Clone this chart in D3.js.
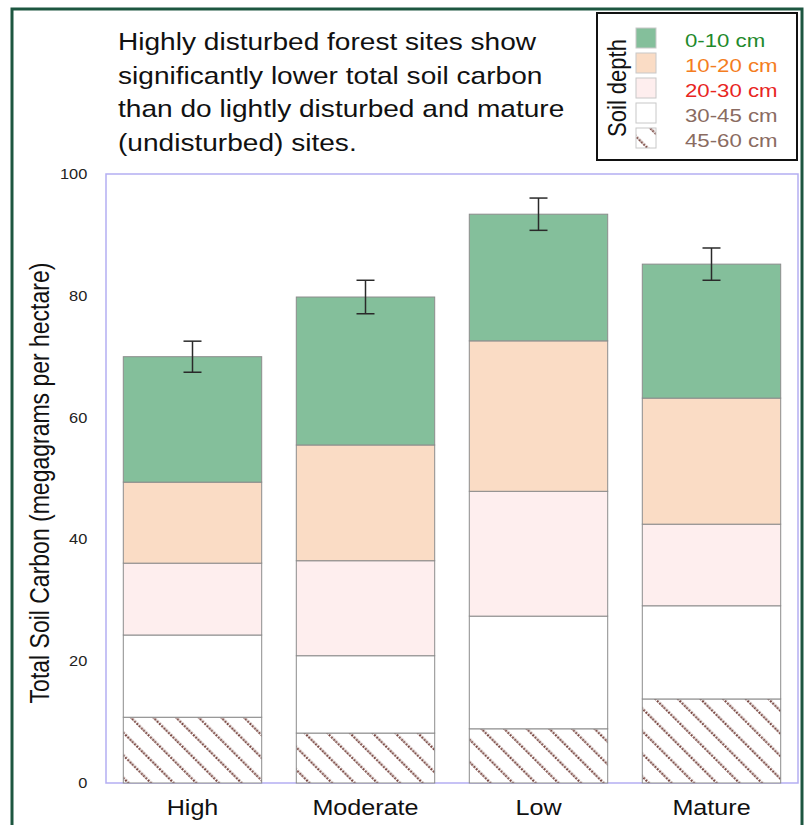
<!DOCTYPE html>
<html><head><meta charset="utf-8">
<script src="https://cdn.jsdelivr.net/npm/d3@7/dist/d3.min.js"></script>
<style>body{margin:0;background:#fff}svg{display:block;font-family:"Liberation Sans",Arial,sans-serif}</style>
</head><body>
<svg id="c" width="806" height="825"></svg>
<script>
const sites = ["High", "Moderate", "Low", "Mature"];
const depths = ["45-60 cm", "30-45 cm", "20-30 cm", "10-20 cm", "0-10 cm"];
const d45_60 = [10.8, 8.2, 8.9, 13.8];
const d30_45 = [13.5, 12.7, 18.5, 15.3];
const d20_30 = [11.8, 15.6, 20.5, 13.4];
const d10_20 = [13.3, 19.0, 24.7, 20.7];
const d0_10  = [20.6, 24.3, 20.8, 22.0];
const errHalf = [2.55, 2.75, 2.65, 2.65];
const yTicks = [0, 20, 40, 60, 80, 100];
const titleLines = ["Highly disturbed forest sites show", "significantly lower total soil carbon", "than do lightly disturbed and mature", "(undisturbed) sites."];

const SX = 1.17; // horizontal stretch of the original picture's text
const fills = {"0-10 cm":"#84bf9b","10-20 cm":"#fadcc5","20-30 cm":"#feeeee","30-45 cm":"#ffffff","45-60 cm":"url(#hatch)"};
const textCols = {"0-10 cm":"#1f8a2c","10-20 cm":"#f47d21","20-30 cm":"#e8261f","30-45 cm":"#8a6b61","45-60 cm":"#8a6b61"};

const svg = d3.select("#c");
const defs = svg.append("defs");
const pat = defs.append("pattern").attr("id","hatch").attr("patternUnits","userSpaceOnUse")
  .attr("width",16).attr("height",16).attr("patternTransform","rotate(-45)");
pat.append("rect").attr("width",16).attr("height",16).attr("fill","#fff");
pat.append("line").attr("x1",1).attr("y1",0).attr("x2",1).attr("y2",16)
  .attr("stroke","#7a4842").attr("stroke-width",2.6).attr("stroke-dasharray","2,1.2");

// outer frame
svg.append("rect").attr("x",12).attr("y",9).attr("width",790).attr("height",830)
  .attr("fill","none").attr("stroke","#1d5640").attr("stroke-width",3);

const L=106,R=798,T=174,B=783;
const x = d3.scaleBand().domain(sites).range([L,R]).paddingInner(0.2).paddingOuter(0.1);
const y = d3.scaleLinear().domain([0,100]).range([B,T]);

const rows = sites.map((s,i)=>({site:s,"45-60 cm":d45_60[i],"30-45 cm":d30_45[i],"20-30 cm":d20_30[i],"10-20 cm":d10_20[i],"0-10 cm":d0_10[i]}));
const stack = d3.stack().keys(depths)(rows);

// plot frame
svg.append("rect").attr("x",L).attr("y",T).attr("width",R-L).attr("height",B-T)
  .attr("fill","none").attr("stroke","#b4aef2").attr("stroke-width",1.5);

svg.append("g").selectAll("g").data(stack).join("g")
  .attr("fill",d=>fills[d.key])
  .selectAll("rect").data(d=>d).join("rect")
  .attr("x",d=>x(d.data.site)).attr("width",x.bandwidth())
  .attr("y",d=>y(d[1])).attr("height",d=>y(d[0])-y(d[1]))
  .attr("stroke","#8c8c8c").attr("stroke-width",1);

// error bars
const tops = stack[stack.length-1];
const eg = svg.append("g").attr("stroke","#2a2a2a").attr("stroke-width",1.5);
tops.forEach((d,i)=>{
  const cx = x(d.data.site)+x.bandwidth()/2;
  const hi = y(d[1]+errHalf[i]), lo = y(d[1]-errHalf[i]);
  eg.append("line").attr("x1",cx).attr("x2",cx).attr("y1",hi).attr("y2",lo);
  eg.append("line").attr("x1",cx-9).attr("x2",cx+9).attr("y1",hi).attr("y2",hi);
  eg.append("line").attr("x1",cx-9).attr("x2",cx+9).attr("y1",lo).attr("y2",lo);
});

// y axis
const ya = svg.append("g").attr("transform",`translate(${L},0)`)
  .call(d3.axisLeft(y).tickValues(yTicks).tickSize(0).tickPadding(16));
ya.select(".domain").remove();
ya.selectAll("text").attr("font-size",14).attr("fill","#222")
  .attr("transform",`scale(${SX},1)`)
  .style("font-family","Liberation Sans, Arial, sans-serif");

// x axis labels
svg.append("g").selectAll("text").data(sites).join("text")
  .attr("transform",d=>`translate(${x(d)+x.bandwidth()/2},815) scale(${SX},1)`)
  .attr("text-anchor","middle").attr("font-size",21.5).attr("fill","#111").text(d=>d);

// y label
svg.append("text").attr("transform",`translate(49,483) scale(${SX},1) rotate(-90)`)
  .attr("text-anchor","middle").attr("font-size",23).attr("fill","#111")
  .text("Total Soil Carbon (megagrams per hectare)");

// title
titleLines.forEach((l,i)=>svg.append("text")
  .attr("transform",`translate(118,${50+i*33.5}) scale(${SX},1)`)
  .attr("font-size",24).attr("fill","#111").text(l));

// legend
const lg = svg.append("g");
lg.append("rect").attr("x",597).attr("y",13).attr("width",200).attr("height",147)
  .attr("fill","#fff").attr("stroke","#111").attr("stroke-width",2);
lg.append("text").attr("transform",`translate(626,88) scale(${SX},1) rotate(-90)`).attr("text-anchor","middle")
  .attr("font-size",22).attr("fill","#111").text("Soil depth");
const legOrder = depths.slice().reverse();
legOrder.forEach((k,i)=>{
  lg.append("rect").attr("x",636).attr("y",28+i*25).attr("width",20).attr("height",20)
    .attr("fill",fills[k]).attr("stroke","#c8c8c8").attr("stroke-width",1);
  lg.append("text").attr("transform",`translate(685,${47+i*25}) scale(${SX},1)`).attr("font-size",19)
    .attr("fill",textCols[k]).text(k);
});
</script>
</body></html>
